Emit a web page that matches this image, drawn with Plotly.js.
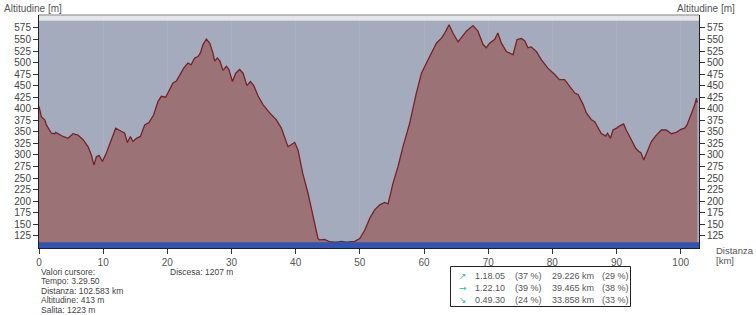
<!DOCTYPE html>
<html>
<head>
<meta charset="utf-8">
<script src="https://cdn.plot.ly/plotly-3.0.1.min.js"></script>
<style>html,body{margin:0;padding:0;background:#fff;}#chart{width:756px;height:315px;}</style>
</head>
<body>
<div id="chart"></div>
<script>
// ---- data ----
const distanceKm = [0, 0.37, 0.9, 1.15, 1.93, 2.45, 2.6, 3.74, 4.52, 5.3, 6.08, 6.86, 7.64, 8.16, 8.57, 8.94, 9.35, 9.88, 10.5, 11.28, 11.95, 12.6, 13.36, 13.77, 14.24, 14.65, 15.18, 15.8, 16.47, 17.14, 17.87, 18.55, 19.07, 19.74, 20.37, 20.88, 21.4, 21.93, 22.55, 23.2, 23.7, 24.26, 24.78, 25.15, 25.56, 26.08, 26.6, 27.1, 27.38, 27.8, 28.2, 28.67, 29.2, 29.6, 30.14, 30.65, 31.27, 31.8, 32.4, 32.94, 33.47, 34.13, 34.9, 35.95, 37, 37.77, 38.3, 38.8, 39.3, 39.85, 40.36, 41.1, 41.92, 42.7, 43.48, 43.74, 44.5, 45.3, 46.3, 47.12, 47.9, 49.2, 49.98, 50.76, 51.54, 52.3, 53.1, 53.87, 54.4, 55.17, 55.95, 56.72, 57.77, 58.8, 59.6, 60.37, 61.15, 61.93, 62.71, 63.2, 63.9, 64.5, 65.3, 65.8, 66.6, 67.63, 68.4, 69.2, 69.7, 70.2, 71, 71.5, 72.06, 72.84, 73.87, 74.5, 75.2, 75.7, 76.2, 76.7, 77.5, 78.3, 79.3, 80.37, 81.1, 81.9, 82.7, 83.5, 84, 84.8, 85.3, 86.1, 86.6, 87.1, 87.6, 88.3, 88.6, 89.05, 89.45, 90, 90.5, 91.1, 91.5, 92.3, 92.96, 93.5, 93.8, 94.24, 94.65, 95.43, 96.2, 96.98, 97.76, 98.55, 99.3, 100.1, 100.6, 100.98, 101.7, 102.2, 102.45, 102.583];
const altitudeM = [405, 383, 376, 365, 347, 346, 349, 340, 336, 346, 343, 333, 318, 300, 278, 296, 299, 286, 304, 333, 358, 353, 347, 327, 340, 329, 336, 340, 365, 370, 387, 416, 427, 425, 441, 456, 460, 474, 488, 499, 495, 510, 513, 521, 539, 551, 542, 521, 503, 510, 503, 483, 492, 485, 459, 477, 485, 477, 450, 459, 450, 428, 409, 391, 376, 358, 336, 318, 322, 327, 311, 260, 217, 166, 119, 116, 117, 112, 111, 113, 111, 113, 119, 137, 163, 181, 192, 197, 194, 239, 275, 318, 369, 434, 477, 499, 521, 542, 553, 563, 582, 564, 545, 553, 568, 580, 568, 539, 532, 542, 550, 564, 542, 524, 517, 550, 552, 547, 532, 534, 524, 506, 488, 474, 463, 463, 448, 434, 431, 409, 391, 376, 372, 358, 347, 341, 347, 336, 354, 358, 363, 367, 354, 333, 315, 307, 305, 289, 304, 329, 343, 354, 354, 346, 349, 356, 358, 365, 391, 409, 423, 413];
const yTickVals = [125, 150, 175, 200, 225, 250, 275, 300, 325, 350, 375, 400, 425, 450, 475, 500, 525, 550, 575];
const xTickVals = [0, 10, 20, 30, 40, 50, 60, 70, 80, 90, 100];
const baseBand = [98.5, 111];      // blue band at the bottom (m)
const cursorLines = ["Valori cursore:", "Tempo: 3.29.50", "Distanza: 102.583 km", "Altitudine: 413 m", "Salita: 1223 m"];
const descentText = "Discesa: 1207 m";
const summaryArrows = ["\u2197", "\u2192", "\u2198"];
const summaryTimes = ["1.18.05", "1.22.10", "0.49.30"];
const summaryTimePct = ["(37 %)", "(39 %)", "(24 %)"];
const summaryDist = ["29.226 km", "39.465 km", "33.858 km"];
const summaryDistPct = ["(29 %)", "(38 %)", "(33 %)"];
const yTitle = "Altitudine [m]";
const xTitleLines = ["Distanza", "[km]"];

// ---- layout helpers (pixel -> paper) ----
const W = 756, H = 315, L = 39, R = 57, T = 15, B = 67;
const PW = W - L - R, PH = H - T - B;
const px = x => (x - L) / PW;
const py = y => (H - B - y) / PH;

const FONT = "Liberation Sans, Arial, sans-serif";
const annotations = [];
function txt(text, x, y, opts) {
  annotations.push(Object.assign({
    text: text, xref: 'paper', yref: 'paper', x: px(x), y: py(y),
    xanchor: 'left', yanchor: 'middle', showarrow: false,
    font: {family: FONT, size: 9.5, color: '#444'}
  }, opts || {}));
}
txt(yTitle, 2, 8, {font: {family: FONT, size: 10, color: '#555'}});
txt(yTitle, 737, 8, {xanchor: 'right', font: {family: FONT, size: 10, color: '#555'}});
txt(xTitleLines[0], 714, 250, {font: {family: FONT, size: 9.5, color: '#555'}});
txt(xTitleLines[1], 714, 260.5, {font: {family: FONT, size: 9.5, color: '#555'}});
cursorLines.forEach((s, i) => txt(s, 39, 272 + i * 9.4, {font: {family: FONT, size: 8.5, color: '#444'}}));
txt(descentText, 168, 272, {font: {family: FONT, size: 8.5, color: '#444'}});
const rowsY = [276, 288, 300];
summaryTimes.forEach((t, i) => {
  const f = {family: FONT, size: 9, color: '#555'};
  txt(summaryArrows[i], 457, rowsY[i], {font: {family: "DejaVu Sans", size: 9, color: '#3bb59a'}});
  txt(t, 473, rowsY[i], {font: f});
  txt(summaryTimePct[i], 513, rowsY[i], {font: f});
  txt(summaryDist[i], 550, rowsY[i], {font: f});
  txt(summaryDistPct[i], 600, rowsY[i], {font: f});
});

const shapes = [
  // light strip at top of plot
  {type: 'rect', xref: 'paper', yref: 'paper', x0: 0, x1: 1, y0: py(20.7), y1: 1, fillcolor: '#e3e5eb', line: {width: 0}, layer: 'below'},
  {type: 'line', xref: 'paper', yref: 'paper', x0: 0, x1: 1, y0: 1, y1: 1, line: {color: '#a8a8a8', width: 1.5}},
  // blue base band
  {type: 'rect', xref: 'paper', yref: 'y', x0: 0, x1: 1, y0: baseBand[0], y1: baseBand[1], fillcolor: '#2c55b9', line: {width: 0}, layer: 'above'},
  // summary box
  {type: 'rect', xref: 'paper', yref: 'paper', x0: px(450.5), x1: px(630.5), y0: py(306.5), y1: py(266.5), fillcolor: '#ffffff', line: {color: '#222', width: 1}}
];

const traces = [
  {x: distanceKm, y: altitudeM, type: 'scatter', mode: 'lines', fill: 'tozeroy',
   fillcolor: '#9b7275', line: {color: '#7d2024', width: 1.3}, hoverinfo: 'skip'},
  {x: distanceKm, y: altitudeM, type: 'scatter', mode: 'lines', yaxis: 'y2',
   line: {width: 0, color: 'rgba(0,0,0,0)'}, hoverinfo: 'skip', showlegend: false}
];

const yAxisCommon = {
  range: [98.5, 603], tickmode: 'array', tickvals: yTickVals,
  ticks: 'outside', ticklen: 5, tickwidth: 1, tickcolor: '#333',
  showline: true, linecolor: '#222', linewidth: 1, showgrid: false, zeroline: false,
  tickfont: {family: FONT, size: 10, color: '#444'}, fixedrange: true
};

const layout = {
  width: W, height: H,
  margin: {l: L, r: R, t: T, b: B, pad: 0},
  paper_bgcolor: '#ffffff', plot_bgcolor: '#a4abbc',
  showlegend: false,
  font: {family: FONT},
  xaxis: {
    range: [0, 102.85], tickmode: 'array', tickvals: xTickVals,
    ticks: 'outside', ticklen: 5, tickwidth: 1, tickcolor: '#333',
    showline: true, linecolor: '#222', linewidth: 1,
    showgrid: true, gridcolor: 'rgba(255,255,255,0.07)', zeroline: false,
    tickfont: {family: FONT, size: 10, color: '#555'}, fixedrange: true
  },
  yaxis: Object.assign({}, yAxisCommon, {side: 'left'}),
  yaxis2: Object.assign({}, yAxisCommon, {side: 'right', overlaying: 'y'}),
  shapes: shapes,
  annotations: annotations
};

Plotly.newPlot('chart', traces, layout, {displayModeBar: false, staticPlot: true});
</script>
</body>
</html>
